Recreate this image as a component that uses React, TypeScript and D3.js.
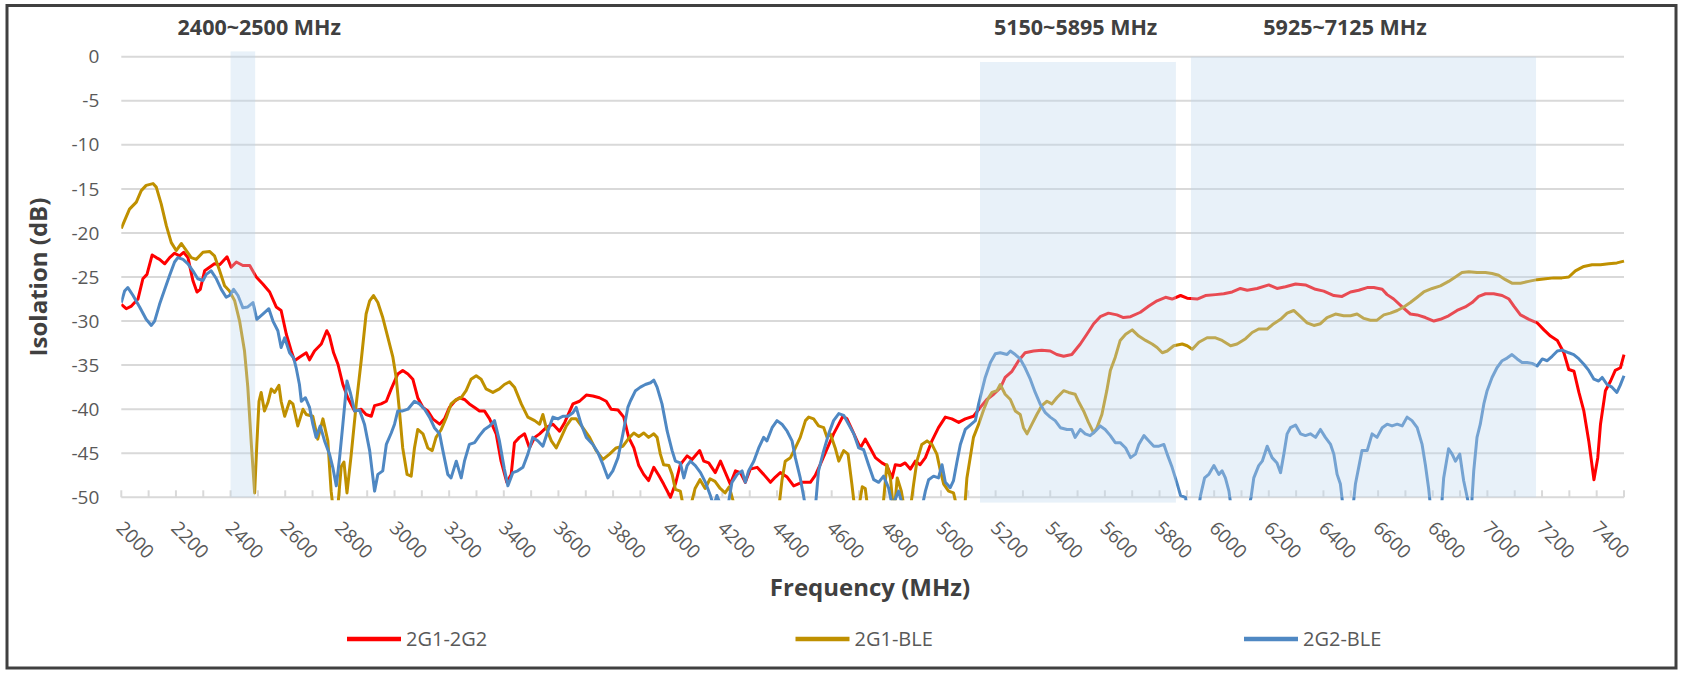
import * as d3 from 'd3';
import { useEffect, useRef } from 'react';

type Pt = [number, number];

const Y_TICKS = [0, -5, -10, -15, -20, -25, -30, -35, -40, -45, -50];
const X_MINOR_TICKS = d3.range(2000, 7501, 100);
const X_LABELS = d3.range(2000, 7401, 200);

// [MHz, dB]; values below -50 fall under the axis and are clipped
const RED: Pt[] = [
    [2000, -28.1], [2018, -28.6], [2037, -28.3], [2061, -27.5], [2079, -25.2], [2094, -24.7], [2113, -22.5], [2128, -22.8],
    [2140, -23.0], [2159, -23.5], [2177, -22.8], [2195, -22.3], [2213, -22.6], [2228, -22.2], [2244, -22.8], [2262, -25.4],
    [2277, -26.7], [2289, -26.4], [2305, -24.3], [2323, -23.9], [2341, -23.5], [2360, -23.6], [2387, -22.7], [2402, -23.9],
    [2421, -23.3], [2445, -23.7], [2470, -23.7], [2494, -25.0], [2518, -25.8], [2543, -26.7], [2567, -28.4], [2585, -28.8],
    [2604, -31.5], [2622, -33.4], [2634, -34.5], [2652, -34.1], [2677, -33.6], [2689, -34.4], [2707, -33.4], [2732, -32.6],
    [2752, -31.1], [2762, -31.7], [2777, -33.6], [2793, -34.9], [2811, -37.2], [2829, -38.7], [2854, -40.2], [2878, -40.0],
    [2896, -40.6], [2915, -40.8], [2927, -39.6], [2951, -39.4], [2970, -39.1], [2988, -37.7], [3012, -36.0], [3030, -35.6],
    [3049, -36.0], [3067, -36.6], [3085, -38.7], [3104, -39.8], [3122, -40.2], [3140, -41.1], [3165, -41.7], [3183, -41.1],
    [3201, -39.8], [3220, -39.1], [3238, -38.7], [3256, -38.9], [3274, -39.4], [3293, -39.8], [3311, -40.2], [3329, -40.2],
    [3348, -41.1], [3372, -42.8], [3390, -45.9], [3411, -48.3], [3427, -47.4], [3439, -43.8], [3457, -43.2], [3476, -42.8],
    [3494, -44.4], [3513, -43.2], [3531, -42.8], [3555, -42.1], [3580, -41.7], [3604, -42.5], [3623, -41.5], [3653, -39.4],
    [3677, -39.1], [3702, -38.4], [3726, -38.5], [3750, -38.7], [3775, -39.1], [3793, -40.0], [3818, -40.1], [3839, -40.9],
    [3857, -43.2], [3876, -44.4], [3894, -46.4], [3912, -47.4], [3930, -48.1], [3949, -46.6], [3967, -47.5], [3985, -48.5],
    [4010, -50.0], [4028, -48.5], [4046, -46.3], [4071, -45.3], [4089, -45.7], [4117, -44.7], [4132, -45.9], [4150, -46.1],
    [4174, -47.2], [4193, -45.9], [4211, -47.2], [4229, -48.5], [4248, -47.0], [4266, -47.2], [4284, -48.3], [4302, -46.8],
    [4327, -46.6], [4351, -47.4], [4376, -48.3], [4394, -47.7], [4412, -47.2], [4437, -47.7], [4461, -48.7], [4491, -48.3],
    [4522, -48.3], [4540, -47.5], [4558, -46.3], [4583, -44.5], [4607, -42.8], [4626, -41.7], [4641, -40.8], [4656, -41.1],
    [4674, -42.3], [4693, -43.6], [4705, -44.4], [4723, -43.4], [4741, -44.4], [4760, -45.5], [4784, -46.1], [4802, -46.4],
    [4821, -47.8], [4833, -46.3], [4851, -46.4], [4869, -46.1], [4888, -46.8], [4906, -45.9], [4924, -46.3], [4943, -45.5],
    [4967, -43.6], [4991, -42.1], [5016, -40.9], [5040, -41.1], [5065, -41.5], [5089, -41.1], [5119, -40.8], [5144, -39.8],
    [5168, -38.9], [5193, -38.3], [5217, -37.6], [5235, -36.4], [5260, -35.7], [5284, -34.5], [5308, -33.6], [5339, -33.4],
    [5369, -33.3], [5400, -33.4], [5424, -33.8], [5449, -34.0], [5479, -33.8], [5510, -32.6], [5534, -31.5], [5559, -30.3],
    [5583, -29.5], [5613, -29.1], [5644, -29.3], [5668, -29.6], [5694, -29.5], [5730, -29.0], [5761, -28.3], [5791, -27.7],
    [5822, -27.3], [5846, -27.5], [5877, -27.1], [5901, -27.4], [5938, -27.5], [5968, -27.1], [6005, -27.0], [6035, -26.9],
    [6066, -26.7], [6096, -26.3], [6121, -26.5], [6157, -26.3], [6200, -25.9], [6230, -26.3], [6261, -26.1], [6298, -25.8],
    [6334, -25.9], [6371, -26.4], [6401, -26.6], [6438, -27.1], [6468, -27.2], [6499, -26.7], [6529, -26.5], [6560, -26.2],
    [6584, -26.2], [6615, -26.4], [6633, -27.0], [6657, -27.5], [6688, -28.4], [6718, -29.2], [6743, -29.3], [6773, -29.6],
    [6804, -30.0], [6828, -29.8], [6858, -29.4], [6889, -28.8], [6919, -28.4], [6944, -27.9], [6968, -27.2], [6993, -26.9],
    [7023, -26.9], [7054, -27.1], [7079, -27.5], [7097, -28.3], [7121, -29.3], [7152, -29.8], [7182, -30.2], [7207, -31.0],
    [7231, -31.7], [7256, -32.2], [7280, -33.6], [7298, -35.5], [7317, -35.7], [7335, -38.1], [7353, -40.2], [7371, -43.6],
    [7390, -48.0], [7404, -45.5], [7414, -41.7], [7432, -37.9], [7451, -36.8], [7468, -35.6], [7487, -35.3], [7500, -33.8],
];

const GOLD: Pt[] = [
    [2000, -19.5], [2012, -18.6], [2030, -17.3], [2055, -16.5], [2073, -15.2], [2091, -14.6], [2116, -14.4], [2128, -14.8],
    [2146, -16.7], [2165, -19.2], [2183, -21.1], [2201, -22.0], [2220, -21.2], [2238, -22.0], [2256, -22.8], [2274, -23.0],
    [2299, -22.2], [2323, -22.1], [2341, -22.6], [2360, -24.3], [2378, -26.0], [2396, -26.6], [2415, -27.7], [2433, -30.0],
    [2451, -33.4], [2463, -37.5], [2476, -44.0], [2488, -49.5], [2496, -44.0], [2504, -39.1], [2512, -38.1], [2524, -40.2],
    [2537, -39.2], [2549, -37.7], [2561, -38.1], [2577, -37.3], [2585, -39.1], [2598, -40.8], [2616, -39.1], [2628, -39.4],
    [2646, -41.9], [2665, -40.0], [2677, -40.6], [2701, -40.8], [2719, -43.4], [2738, -41.1], [2756, -43.6], [2768, -49.3],
    [2778, -52], [2790, -52], [2805, -46.5], [2815, -46.0], [2826, -49.5], [2841, -45.3], [2860, -39.4], [2878, -34.5],
    [2896, -29.2], [2909, -27.7], [2923, -27.1], [2939, -27.9], [2957, -29.6], [2976, -31.9], [2994, -34.1], [3006, -36.4],
    [3018, -40.2], [3030, -44.4], [3046, -47.4], [3061, -47.6], [3073, -44.4], [3085, -42.3], [3104, -42.8], [3122, -44.4],
    [3138, -44.7], [3152, -43.2], [3171, -42.3], [3189, -41.0], [3207, -39.4], [3226, -38.9], [3244, -38.7], [3262, -37.9],
    [3280, -36.6], [3299, -36.2], [3317, -36.6], [3335, -37.7], [3360, -38.1], [3384, -37.7], [3402, -37.2], [3421, -36.9],
    [3439, -37.5], [3464, -39.4], [3488, -40.9], [3513, -41.3], [3531, -41.7], [3543, -40.6], [3555, -42.1], [3574, -43.6],
    [3592, -44.4], [3610, -43.2], [3629, -41.9], [3647, -41.1], [3665, -41.1], [3689, -42.1], [3714, -43.2], [3738, -44.7],
    [3763, -45.7], [3787, -45.1], [3811, -44.4], [3836, -44.2], [3860, -43.2], [3876, -42.7], [3894, -43.1], [3912, -42.7],
    [3930, -43.2], [3949, -42.8], [3961, -43.2], [3973, -45.1], [3985, -46.3], [4004, -46.4], [4016, -47.4], [4028, -49.1],
    [4046, -49.3], [4060, -51.5], [4080, -51.5], [4100, -49.0], [4118, -48.0], [4137, -49.0], [4155, -47.9], [4173, -48.2],
    [4192, -49.0], [4210, -49.5], [4225, -48.8], [4240, -50.5], [4260, -53], [4400, -53], [4418, -48.1], [4430, -45.9],
    [4449, -45.5], [4467, -44.4], [4485, -43.2], [4504, -41.3], [4516, -40.9], [4534, -41.1], [4552, -41.9], [4571, -42.1],
    [4583, -43.2], [4595, -42.8], [4613, -44.4], [4626, -45.9], [4644, -44.7], [4660, -45.1], [4674, -48.5], [4687, -52],
    [4700, -51], [4712, -48.8], [4723, -49.0], [4735, -52], [4785, -52], [4802, -46.3], [4815, -47.8], [4828, -52],
    [4840, -47.8], [4855, -49.3], [4870, -52], [4885, -52], [4900, -48.5], [4912, -45.9], [4930, -44.0], [4949, -43.6],
    [4967, -44.0], [4985, -45.1], [4998, -47.0], [5010, -48.5], [5028, -49.3], [5046, -49.5], [5065, -52], [5085, -52],
    [5095, -47.8], [5107, -45.5], [5119, -43.2], [5138, -41.7], [5156, -40.1], [5174, -38.7], [5187, -38.1], [5205, -37.9],
    [5217, -37.2], [5235, -38.3], [5254, -38.9], [5272, -40.2], [5290, -40.6], [5302, -42.1], [5315, -42.8], [5333, -41.7],
    [5351, -40.6], [5369, -39.6], [5388, -39.1], [5406, -39.4], [5424, -38.7], [5449, -37.9], [5467, -38.1], [5491, -38.3],
    [5503, -39.1], [5522, -40.2], [5540, -41.5], [5559, -42.7], [5571, -42.1], [5589, -40.6], [5607, -37.9], [5620, -35.6],
    [5638, -34.1], [5656, -32.2], [5676, -31.5], [5700, -31.0], [5724, -31.7], [5749, -32.2], [5773, -32.6], [5791, -33.0],
    [5810, -33.6], [5828, -33.4], [5852, -32.8], [5883, -32.6], [5901, -32.8], [5920, -33.2], [5944, -32.4], [5974, -31.9],
    [6005, -31.9], [6029, -32.2], [6060, -32.8], [6084, -32.6], [6115, -32.0], [6139, -31.3], [6163, -30.9], [6194, -30.9],
    [6218, -30.3], [6243, -29.8], [6267, -29.1], [6291, -28.8], [6316, -29.5], [6340, -30.2], [6365, -30.5], [6389, -30.3],
    [6413, -29.6], [6444, -29.2], [6474, -29.4], [6499, -29.4], [6523, -29.2], [6548, -29.7], [6572, -29.9], [6596, -29.9],
    [6621, -29.3], [6645, -29.1], [6670, -28.8], [6694, -28.4], [6718, -27.9], [6743, -27.3], [6767, -26.7], [6798, -26.3],
    [6828, -26.0], [6858, -25.5], [6883, -25.0], [6907, -24.5], [6932, -24.4], [6962, -24.5], [6993, -24.5], [7017, -24.6],
    [7041, -24.8], [7066, -25.3], [7090, -25.7], [7121, -25.7], [7151, -25.5], [7182, -25.3], [7213, -25.2], [7243, -25.1],
    [7273, -25.1], [7298, -25.0], [7322, -24.3], [7353, -23.8], [7383, -23.6], [7414, -23.6], [7444, -23.5], [7474, -23.4],
    [7500, -23.2],
];

const BLUE: Pt[] = [
    [2000, -27.9], [2012, -26.6], [2024, -26.2], [2043, -27.1], [2067, -28.4], [2091, -29.8], [2110, -30.5], [2122, -30.0],
    [2140, -28.1], [2159, -26.4], [2177, -24.8], [2195, -23.3], [2207, -22.8], [2226, -23.0], [2244, -23.5], [2262, -24.3],
    [2280, -25.2], [2299, -25.4], [2311, -24.7], [2329, -24.3], [2348, -25.2], [2366, -26.4], [2384, -27.3], [2396, -27.1],
    [2411, -26.4], [2427, -27.1], [2445, -28.5], [2463, -28.4], [2482, -27.9], [2496, -29.8], [2518, -29.2], [2540, -28.6],
    [2555, -30.0], [2573, -31.1], [2585, -33.0], [2598, -31.9], [2616, -33.6], [2631, -34.2], [2640, -35.3], [2652, -37.2],
    [2659, -39.1], [2674, -38.7], [2689, -39.8], [2701, -41.7], [2713, -43.2], [2728, -41.9], [2744, -43.6], [2762, -45.1],
    [2774, -46.6], [2787, -48.7], [2799, -45.5], [2811, -41.7], [2826, -36.8], [2838, -38.1], [2854, -40.2], [2872, -40.1],
    [2890, -41.7], [2909, -44.7], [2927, -49.3], [2939, -47.4], [2957, -47.0], [2970, -44.0], [2988, -42.7], [3000, -41.7],
    [3012, -40.2], [3030, -40.2], [3049, -40.0], [3073, -39.1], [3091, -39.4], [3110, -40.0], [3128, -40.9], [3146, -42.1],
    [3165, -42.8], [3177, -44.7], [3195, -47.4], [3207, -47.8], [3226, -45.9], [3244, -47.8], [3256, -45.9], [3274, -44.0],
    [3293, -43.8], [3311, -43.0], [3329, -42.3], [3348, -41.9], [3366, -41.3], [3384, -43.6], [3402, -46.8], [3415, -48.7],
    [3433, -47.2], [3451, -47.0], [3470, -46.6], [3488, -45.1], [3506, -43.2], [3525, -43.6], [3543, -44.2], [3561, -42.5],
    [3580, -40.9], [3598, -41.1], [3616, -40.8], [3635, -40.8], [3653, -40.4], [3665, -39.8], [3683, -41.7], [3702, -43.2],
    [3726, -44.0], [3744, -44.9], [3763, -46.3], [3781, -47.8], [3799, -47.0], [3818, -45.5], [3836, -42.8], [3854, -39.8],
    [3863, -39.1], [3882, -37.9], [3900, -37.5], [3918, -37.2], [3937, -37.0], [3949, -36.7], [3961, -37.5], [3979, -39.4],
    [3998, -42.5], [4016, -44.7], [4028, -45.9], [4046, -46.1], [4059, -47.8], [4071, -46.4], [4083, -45.9], [4101, -46.4],
    [4120, -47.2], [4138, -48.3], [4156, -49.8], [4168, -51], [4180, -49.8], [4195, -51], [4215, -52], [4235, -48.3],
    [4254, -47.4], [4272, -47.0], [4284, -48.3], [4296, -47.0], [4315, -45.9], [4333, -44.4], [4351, -43.2], [4363, -43.6],
    [4382, -42.1], [4400, -41.3], [4418, -41.7], [4437, -42.5], [4455, -43.6], [4467, -45.5], [4485, -47.8], [4498, -50.0],
    [4515, -53], [4535, -53], [4552, -47.0], [4571, -44.7], [4589, -42.8], [4607, -41.3], [4626, -40.5], [4644, -40.7],
    [4662, -41.7], [4681, -42.8], [4699, -44.4], [4717, -44.6], [4735, -46.3], [4754, -48.0], [4772, -48.3], [4790, -47.6],
    [4808, -48.9], [4822, -51], [4845, -49.3], [4860, -51], [4880, -53], [4925, -52], [4943, -49.3], [4955, -48.0],
    [4973, -47.6], [4991, -47.8], [5004, -46.3], [5016, -48.3], [5034, -48.9], [5046, -48.1], [5059, -45.9], [5071, -44.0],
    [5089, -42.3], [5107, -41.8], [5126, -41.3], [5138, -39.4], [5150, -37.9], [5162, -36.4], [5181, -34.7], [5199, -33.7],
    [5217, -33.6], [5242, -33.8], [5254, -33.4], [5272, -33.8], [5290, -34.3], [5308, -35.3], [5327, -36.6], [5345, -38.1],
    [5363, -39.4], [5382, -40.4], [5400, -40.9], [5418, -41.3], [5437, -42.1], [5461, -42.3], [5479, -42.3], [5491, -43.2],
    [5510, -42.3], [5528, -42.8], [5546, -43.0], [5565, -42.5], [5583, -41.9], [5601, -42.3], [5620, -43.0], [5638, -43.8],
    [5656, -43.8], [5676, -44.4], [5694, -45.5], [5712, -45.1], [5724, -44.0], [5743, -43.0], [5761, -43.6], [5779, -44.2],
    [5798, -44.2], [5816, -44.0], [5828, -45.1], [5846, -46.6], [5865, -48.5], [5877, -49.8], [5895, -50.0], [5910, -53],
    [5935, -53], [5950, -49.8], [5965, -47.8], [5980, -47.4], [5999, -46.4], [6017, -47.4], [6029, -47.0], [6041, -47.8],
    [6054, -49.3], [6066, -52], [6120, -52], [6135, -50.0], [6145, -47.8], [6163, -46.4], [6176, -45.9], [6194, -44.2],
    [6212, -45.5], [6230, -46.1], [6243, -47.2], [6255, -45.1], [6267, -42.8], [6279, -42.1], [6298, -41.8], [6316, -42.8],
    [6334, -43.0], [6352, -42.8], [6371, -43.2], [6389, -42.3], [6407, -43.2], [6426, -44.0], [6438, -45.1], [6450, -47.4],
    [6462, -48.5], [6475, -52], [6505, -52], [6517, -48.5], [6529, -46.6], [6541, -44.7], [6560, -44.7], [6578, -42.8],
    [6596, -43.2], [6615, -42.1], [6633, -41.7], [6651, -41.9], [6670, -41.7], [6688, -41.9], [6706, -40.9], [6724, -41.3],
    [6743, -42.1], [6761, -44.0], [6773, -46.3], [6785, -49.0], [6795, -52], [6830, -52], [6840, -47.8], [6858, -44.5],
    [6871, -45.1], [6883, -45.9], [6899, -45.1], [6913, -48.1], [6926, -50.0], [6940, -52], [6950, -47.0], [6962, -43.2],
    [6974, -41.7], [6987, -39.4], [6999, -37.9], [7017, -36.4], [7035, -35.3], [7054, -34.5], [7072, -34.2], [7090, -33.8],
    [7109, -34.3], [7127, -34.7], [7145, -34.7], [7164, -34.8], [7182, -35.1], [7201, -34.3], [7219, -34.5], [7237, -34.0],
    [7256, -33.4], [7274, -33.3], [7298, -33.6], [7316, -33.8], [7335, -34.3], [7353, -34.9], [7371, -35.6], [7390, -36.6],
    [7407, -36.8], [7420, -36.4], [7438, -37.2], [7456, -37.5], [7474, -38.1], [7486, -37.3], [7500, -36.2],
];

const SERIES = [
    { name: '2G1-2G2', color: '#FF0000', values: RED },
    { name: '2G1-BLE', color: '#BF9000', values: GOLD },
    { name: '2G2-BLE', color: '#4F88C3', values: BLUE },
];

// shaded frequency bands as drawn: MHz from/to, dB top/bottom, and where the caption sits (MHz)
const BANDS = [
    { label: '2400~2500 MHz', from: 2400, to: 2490, top: 0.6, bottom: -50, captionAt: 2505 },
    { label: '5150~5895 MHz', from: 5143, to: 5860, top: -0.6, bottom: -50.6, captionAt: 5493 },
    { label: '5925~7125 MHz', from: 5915, to: 7178, top: 0, bottom: -50, captionAt: 6479 },
];

const W = 1683;
const H = 673;
const FONT = "'Open Sans', 'Noto Sans', sans-serif";

export default function App() {
    const svgRef = useRef<SVGSVGElement>(null);

    useEffect(() => {
        if (!svgRef.current) return;
        const svg = d3.select(svgRef.current);
        svg.selectAll('*').remove();

        const x = d3.scaleLinear().domain([2000, 7500]).range([121.3, 1624]);
        const y = d3.scaleLinear().domain([-50, 0]).range([497.3, 56.7]);
        const [x0, x1] = x.range();

        svg.append('rect').attr('width', W).attr('height', H).attr('fill', '#fff');
        svg.append('rect')
            .attr('x', 7).attr('y', 5.5).attr('width', W - 14).attr('height', H - 10.5)
            .attr('fill', 'none').attr('stroke', '#404040').attr('stroke-width', 3);

        // gridlines
        svg.append('g')
            .selectAll('line')
            .data(Y_TICKS)
            .join('line')
            .attr('x1', x0).attr('x2', x1)
            .attr('y1', (d) => y(d)).attr('y2', (d) => y(d))
            .attr('stroke', '#D9D9D9').attr('stroke-width', 2);

        // minor ticks on the bottom axis, pointing up
        svg.append('g')
            .selectAll('line')
            .data(X_MINOR_TICKS)
            .join('line')
            .attr('x1', (d) => x(d)).attr('x2', (d) => x(d))
            .attr('y1', y(-50)).attr('y2', y(-50) - 7)
            .attr('stroke', '#D9D9D9').attr('stroke-width', 2);

        svg.append('g')
            .attr('font-family', FONT).attr('font-size', 19).attr('fill', '#595959')
            .selectAll('text')
            .data(Y_TICKS)
            .join('text')
            .attr('x', x0 - 22)
            .attr('y', (d) => y(d))
            .attr('dy', '0.35em')
            .attr('text-anchor', 'end')
            .text((d) => String(d));

        svg.append('g')
            .attr('font-family', FONT).attr('font-size', 19).attr('fill', '#595959')
            .selectAll('text')
            .data(X_LABELS)
            .join('text')
            .attr('transform', (d) => `translate(${x(d) - 6},${y(-50) + 32}) rotate(45)`)
            .attr('text-anchor', 'start')
            .text((d) => String(d));

        const clipId = 'plot-clip';
        svg.append('clipPath').attr('id', clipId)
            .append('rect')
            .attr('x', x0).attr('y', 0).attr('width', x1 - x0 + 2).attr('height', y(-50) + 3);

        const line = d3.line<Pt>().x((d) => x(d[0])).y((d) => y(d[1]));

        svg.append('g')
            .attr('clip-path', `url(#${clipId})`)
            .selectAll('path')
            .data(SERIES)
            .join('path')
            .attr('d', (d) => line(d.values))
            .attr('fill', 'none')
            .attr('stroke', (d) => d.color)
            .attr('stroke-width', 3)
            .attr('stroke-linejoin', 'round');

        // translucent band boxes sit over the lines
        svg.append('g')
            .selectAll('rect')
            .data(BANDS)
            .join('rect')
            .attr('x', (d) => x(d.from))
            .attr('width', (d) => x(d.to) - x(d.from))
            .attr('y', (d) => y(d.top))
            .attr('height', (d) => y(d.bottom) - y(d.top))
            .attr('fill', '#BED7EE')
            .attr('fill-opacity', 0.35);

        svg.append('g')
            .attr('font-family', FONT).attr('font-size', 21.5).attr('font-weight', 'bold').attr('fill', '#404040')
            .selectAll('text')
            .data(BANDS)
            .join('text')
            .attr('x', (d) => x(d.captionAt))
            .attr('y', 35)
            .attr('text-anchor', 'middle')
            .text((d) => d.label);

        svg.append('text')
            .attr('transform', `translate(47,${(y(0) + y(-50)) / 2}) rotate(-90)`)
            .attr('text-anchor', 'middle')
            .attr('font-family', FONT).attr('font-size', 24).attr('font-weight', 'bold').attr('fill', '#404040')
            .text('Isolation (dB)');

        svg.append('text')
            .attr('x', 870).attr('y', 596)
            .attr('text-anchor', 'middle')
            .attr('font-family', FONT).attr('font-size', 24).attr('font-weight', 'bold').attr('fill', '#404040')
            .text('Frequency (MHz)');

        const legend = svg.append('g').attr('font-family', FONT).attr('font-size', 20).attr('fill', '#595959');
        SERIES.forEach((s, i) => {
            const lx = 347 + i * 448.5;
            legend.append('line')
                .attr('x1', lx).attr('x2', lx + 54)
                .attr('y1', 639).attr('y2', 639)
                .attr('stroke', s.color).attr('stroke-width', 4.5);
            legend.append('text')
                .attr('x', lx + 59).attr('y', 639).attr('dy', '0.35em')
                .text(s.name);
        });
    }, []);

    return (
        <svg
            ref={svgRef}
            width={W}
            height={H}
            style={{ position: 'absolute', left: 0, top: 0, display: 'block' }}
        />
    );
}
